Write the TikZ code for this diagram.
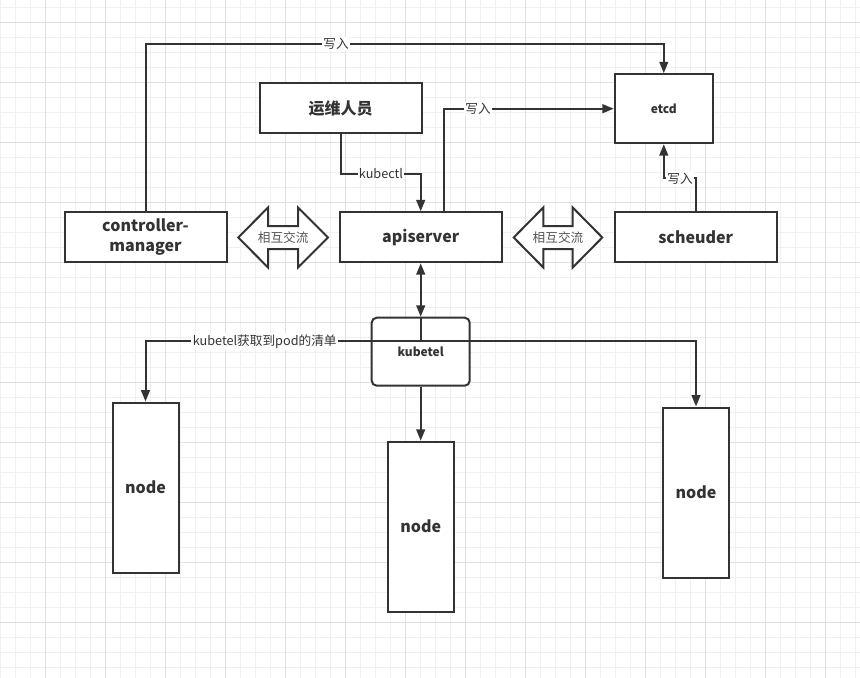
\documentclass[tikz,border=0pt]{standalone}
\usepackage{fontspec}
\setmainfont{Noto Sans CJK SC}
\usetikzlibrary{arrows.meta,calc}
\definecolor{ink}{HTML}{333333}
\definecolor{gridminor}{HTML}{F0F0F0}
\definecolor{gridmajor}{HTML}{E0E0E0}
\definecolor{soft}{HTML}{555555}
\begin{document}
\begin{tikzpicture}[x=0.75pt,y=-0.75pt,
  box/.style={draw=ink, line width=1.5pt, fill=white, inner sep=0pt, text=ink,
    font=\bfseries\fontsize{12}{15}\selectfont, align=center},
  smallbox/.style={box, font=\bfseries\fontsize{9}{11}\selectfont},
  conn/.style={draw=ink, line width=1.5pt},
  tipA/.style={},
  arr/.style={conn, -{Triangle[length=8.5pt,width=6.5pt]}},
  biarr/.style={conn, {Triangle[length=8.5pt,width=6.5pt]}-{Triangle[length=8.5pt,width=6.5pt]}},
  lbl/.style={fill=white, inner sep=1pt, text=ink, font=\fontsize{9.5}{11}\selectfont},
  fat/.style={draw=ink, line width=1.5pt, fill=white, line join=miter},
  fattext/.style={text=soft, inner sep=0pt, font=\fontsize{9.5}{11}\selectfont},
]
\useasboundingbox (0,0) rectangle (860,678);
\fill[white] (0,0) rectangle (860,678);
% grid
\foreach \x in {0,15,...,855} \draw[gridminor, line width=0.75pt] (\x,0) -- (\x,678);
\foreach \y in {7,22,...,677} \draw[gridminor, line width=0.75pt] (0,\y) -- (860,\y);
\foreach \x in {45,105,...,855} \draw[gridmajor, line width=0.75pt] (\x,0) -- (\x,678);
\foreach \y in {22,82,...,677} \draw[gridmajor, line width=0.75pt] (0,\y) -- (860,\y);

% boxes
\node[box, minimum width=121.5pt, minimum height=37.5pt] (cm) at (145.5,237.3) {controller-\\manager};
\node[box, minimum width=121.5pt, minimum height=37.5pt] (ops) at (340.7,108.3) {运维人员};
\node[box, minimum width=121.5pt, minimum height=37.5pt] (api) at (420.7,237.3) {apiserver};
\node[box, minimum width=121.5pt, minimum height=37.5pt] (sch) at (695.7,237.3) {scheuder};
\node[smallbox, minimum width=73.5pt, minimum height=51.75pt] (etcd) at (663.8,108.7) {etcd};
\node[smallbox, rounded corners=3.75pt, minimum width=73.5pt, minimum height=51pt] (kub) at (420.7,351.7) {kubetel};
\node[box, minimum width=49.5pt, minimum height=127.5pt] (nL) at (145.5,487.5) {node};
\node[box, minimum width=49.5pt, minimum height=127.5pt] (nM) at (420.7,526.7) {node};
\node[box, minimum width=49.5pt, minimum height=127.5pt] (nR) at (696,492.5) {node};

% double arrows
\draw[fat] (238.3,237.5) -- (268,207.5) -- (268,226) -- (298,226) -- (298,207.5) -- (328,237.5)
  -- (298,267.5) -- (298,249) -- (268,249) -- (268,267.5) -- cycle;
\node[fattext] (x1) at (283.2,238) {相互交流};
\draw[fat] (513.7,237.5) -- (543.3,207.5) -- (543.3,226) -- (572.7,226) -- (572.7,207.5) -- (602.3,237.5)
  -- (572.7,267.5) -- (572.7,249) -- (543.3,249) -- (543.3,267.5) -- cycle;
\node[fattext] (x2) at (558,238) {相互交流};

% connectors
\coordinate (yA) at (0,44);
\coordinate (yK) at (0,173.5);
\coordinate (yS) at (0,178);
\coordinate (jn) at (420.7,341);

\draw[arr] (cm.north) -- (cm.north |- yA) -| (etcd.north);
\node[lbl] (l1) at (336,44) {写入};

\draw[arr] ($(api.north)+(23,0)$) |- (etcd.west);
\node[lbl] (l2) at (478,108.7) {写入};

\draw[arr] (ops.south) -- (ops.south |- yK) -| (api.north);
\node[lbl] (l3) at (381,173.5) {kubectl};

\draw[arr] (sch.north) -- (sch.north |- yS) -| (etcd.south);
\node[lbl] (l4) at (680,179) {写入};

\draw[biarr] (api.south) -- (kub.north);
\draw[conn] (kub.north) -- (jn);
\draw[arr] (jn) -| (nL.north);
\draw[arr] (jn) -| (nR.north);
\node[lbl] (l5) at (264.7,341.5) {kubetel获取到pod的清单};
\draw[arr] (kub.south) -- (nM.north);
\end{tikzpicture}
\end{document}
